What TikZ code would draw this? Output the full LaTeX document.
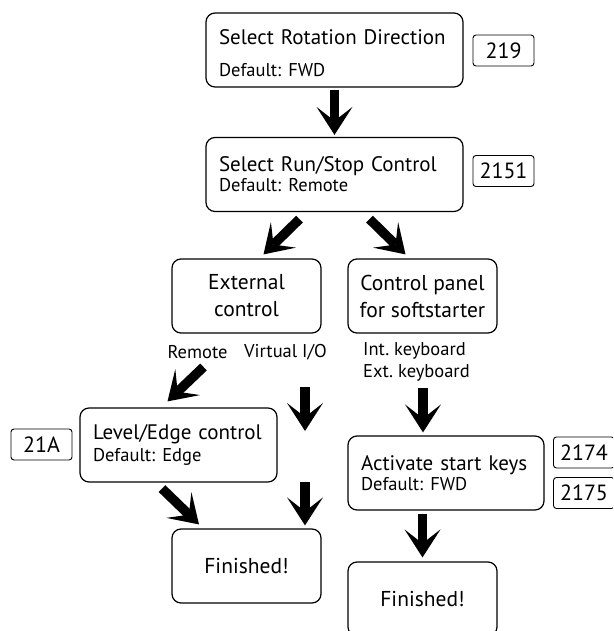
\documentclass[tikz,border=0pt]{standalone}
\usepackage{fontspec}
\setmainfont{PT Sans}
\frenchspacing
\usetikzlibrary{arrows.meta}
\newcommand{\dflt}[1]{{\fontsize{18.5}{18}\selectfont Default: #1}}

\begin{document}
\begin{tikzpicture}[x=1pt,y=-1pt,
 box/.style={draw,line width=1.2pt,rounded corners=9pt,minimum height=74pt,inner sep=0pt,font=\fontsize{21}{20}\selectfont},
 stepbox/.style={box,align=left,text width=#1,inner xsep=13pt},
 endbox/.style={box,align=center,minimum width=149pt,font=\fontsize{21.5}{27}\selectfont},
 numbox/.style={draw,line width=0.9pt,rounded corners=3pt,minimum width=61pt,minimum height=31pt,inner sep=0pt,font=\fontsize{22}{22}\selectfont},
 lbl/.style={inner sep=0pt,font=\fontsize{18.5}{22}\selectfont},
 bigarrow/.style={line width=9.5pt,-{Stealth[length=28pt,width=36pt,inset=14pt,line width=0pt]}}]
\useasboundingbox (0,0) rectangle (613,631);
\clip (0,0) rectangle (613,631);
% rotation and run/stop
\node[stepbox=231pt] (rot) at (334.5,50) {\rule{0pt}{22pt}Select Rotation Direction\\[12pt]\dflt{FWD}};
\node[numbox] (n219) at (503.5,50.5) {219};
\node[stepbox=231pt] (run) at (334.5,174.5) {Select Run/Stop Control\\\dflt{Remote}};
\node[numbox] (n2151) at (503.5,171) {2151};
\draw[bigarrow,shorten <=2pt,shorten >=2pt] (rot) -- (run);
% two ways of control
\node[endbox] (ext) at (246.5,296) {External\\control};
\node[endbox] (panel) at (422.5,296) {Control panel\\for softstarter};
\draw[bigarrow] ([shift={(-35,7)}]run.south) -- ([shift={(17,-4)}]ext.north);
\draw[bigarrow] ([shift={(35,7)}]run.south) -- ([shift={(-17,-4)}]panel.north);
\node[lbl] (remote) at (197.5,352) {Remote};
\node[lbl] (virtual) at (285.5,352) {Virtual I/O};
\node[lbl,anchor=west,align=left] (kbd) at (363,362) {Int. keyboard\\Ext. keyboard};
% external branch
\node[stepbox=171pt] (level) at (178.5,445) {Level/Edge control\\[2pt]\dflt{Edge}};
\node[numbox] (n21A) at (41.5,444.5) {21A};
\node[endbox] (fin1) at (246.5,566) {Finished!};
\coordinate (vioend) at (305,431);
\coordinate (viostart) at (305,482);
\draw[bigarrow] ([shift={(6,15)}]remote.center) -- ([shift={(-11,-6)}]level.north);
\draw[bigarrow] ([shift={(19.5,35)}]virtual.center) -- (vioend);
\draw[bigarrow] ([shift={(-16.5,6)}]level.south) -- ([shift={(-47.5,-4)}]fin1.north);
\draw[bigarrow] (viostart) -- ([shift={(58.5,-3)}]fin1.north);
% panel branch
\node[stepbox=170pt] (keys) at (446,473) {Activate start keys\\\dflt{FWD}};
\node[numbox] (n2174) at (584,452.5) {2174};
\node[numbox] (n2175) at (584,493) {2175};
\node[endbox] (fin2) at (422.5,599) {Finished!};
\draw[bigarrow] ([shift={(60,26)}]kbd.west) -- ([shift={(-23,-3)}]keys.north);
\draw[bigarrow] ([shift={(-23.5,3)}]keys.south) -- ([shift={(0,-4)}]fin2.north);
\end{tikzpicture}
\end{document}
